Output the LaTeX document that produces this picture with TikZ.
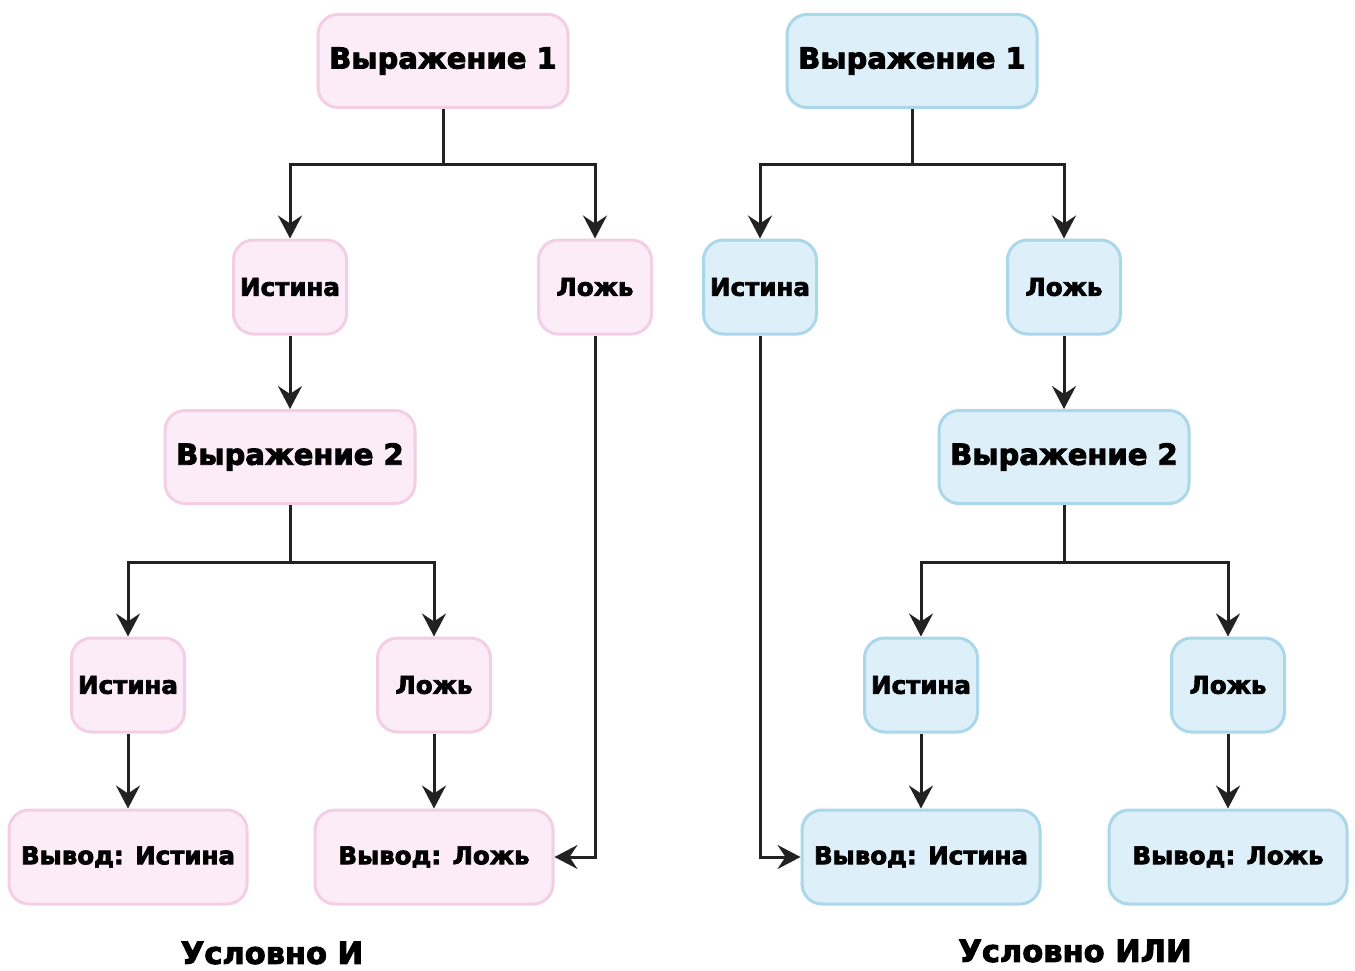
\documentclass[tikz,border=0pt]{standalone}
\usepackage{fontspec}
\setmainfont{DejaVu Sans}
\newfontfamily\heavyfont{DejaVu Sans Bold}[FakeBold=3]
\usetikzlibrary{arrows.meta}
\definecolor{pinkfill}{RGB}{251,236,247}
\definecolor{pinkdraw}{RGB}{243,206,229}
\definecolor{bluefill}{RGB}{221,240,250}
\definecolor{bluedraw}{RGB}{170,215,234}
\definecolor{lineclr}{RGB}{34,34,34}
\begin{document}
\begin{tikzpicture}[x=1pt,y=-1pt,
  box/.style={rounded corners=20pt, line width=3pt, inner sep=0pt,
    font=\fontsize{24.5}{30}\heavyfont},
  bigbox/.style={minimum width=250pt, minimum height=93pt, font=\fontsize{29}{34}\heavyfont},
  smallbox/.style={minimum width=113pt, minimum height=94pt},
  outbox/.style={minimum width=238pt, minimum height=94pt},
  pinkbox/.style={box, draw=pinkdraw, fill=pinkfill},
  bluebox/.style={box, draw=bluedraw, fill=bluefill},
  conn/.style={draw=lineclr, line width=3pt, -{Stealth[length=23pt,width=24pt,inset=8pt]}},
  title/.style={font=\fontsize{30.5}{36}\heavyfont}
]
\useasboundingbox (0,0) rectangle (1355,971);
\fill[white] (0,0) rectangle (1355,971);

% ---------- left tree ----------
\node[pinkbox,bigbox] (a1) at (443,61) {Выражение 1};
\node[pinkbox,smallbox] (aT) at (290,287) {Истина};
\node[pinkbox,smallbox] (aF) at (595,287) {Ложь};
\node[pinkbox,bigbox] (a2) at (290,457) {Выражение 2};
\node[pinkbox,smallbox] (aTT) at (128,685) {Истина};
\node[pinkbox,smallbox] (aTF) at (434,685) {Ложь};
\node[pinkbox,outbox] (aOT) at (128,857) {Вывод: Истина};
\node[pinkbox,outbox] (aOF) at (434,857) {Вывод: Ложь};
\node[title] (t1) at (272,953) {Условно И};

\coordinate (aj1) at (443,165);
\coordinate (aj2) at (290,562);
\draw[conn] (a1.south) -- (aj1) -| (aT.north);
\draw[conn] (aj1) -| (aF.north);
\draw[conn] (aT.south) -- (a2.north);
\draw[conn] (aF.south) |- (aOF.east);
\draw[conn] (a2.south) -- (aj2) -| (aTT.north);
\draw[conn] (aj2) -| (aTF.north);
\draw[conn] (aTT.south) -- (aOT.north);
\draw[conn] (aTF.south) -- (aOF.north);

% ---------- right tree ----------
\node[bluebox,bigbox] (b1) at (912,61) {Выражение 1};
\node[bluebox,smallbox] (bT) at (760,287) {Истина};
\node[bluebox,smallbox] (bF) at (1064,287) {Ложь};
\node[bluebox,bigbox] (b2) at (1064,457) {Выражение 2};
\node[bluebox,smallbox] (bTT) at (921,685) {Истина};
\node[bluebox,smallbox] (bTF) at (1228,685) {Ложь};
\node[bluebox,outbox] (bOT) at (921,857) {Вывод: Истина};
\node[bluebox,outbox] (bOF) at (1228,857) {Вывод: Ложь};
\node[title] (t2) at (1075,951) {Условно ИЛИ};

\coordinate (bj1) at (912,165);
\coordinate (bj2) at (1064,562);
\draw[conn] (b1.south) -- (bj1) -| (bT.north);
\draw[conn] (bj1) -| (bF.north);
\draw[conn] (bF.south) -- (b2.north);
\draw[conn] (bT.south) |- (bOT.west);
\draw[conn] (b2.south) -- (bj2) -| (bTT.north);
\draw[conn] (bj2) -| (bTF.north);
\draw[conn] (bTT.south) -- (bOT.north);
\draw[conn] (bTF.south) -- (bOF.north);
\end{tikzpicture}
\end{document}
